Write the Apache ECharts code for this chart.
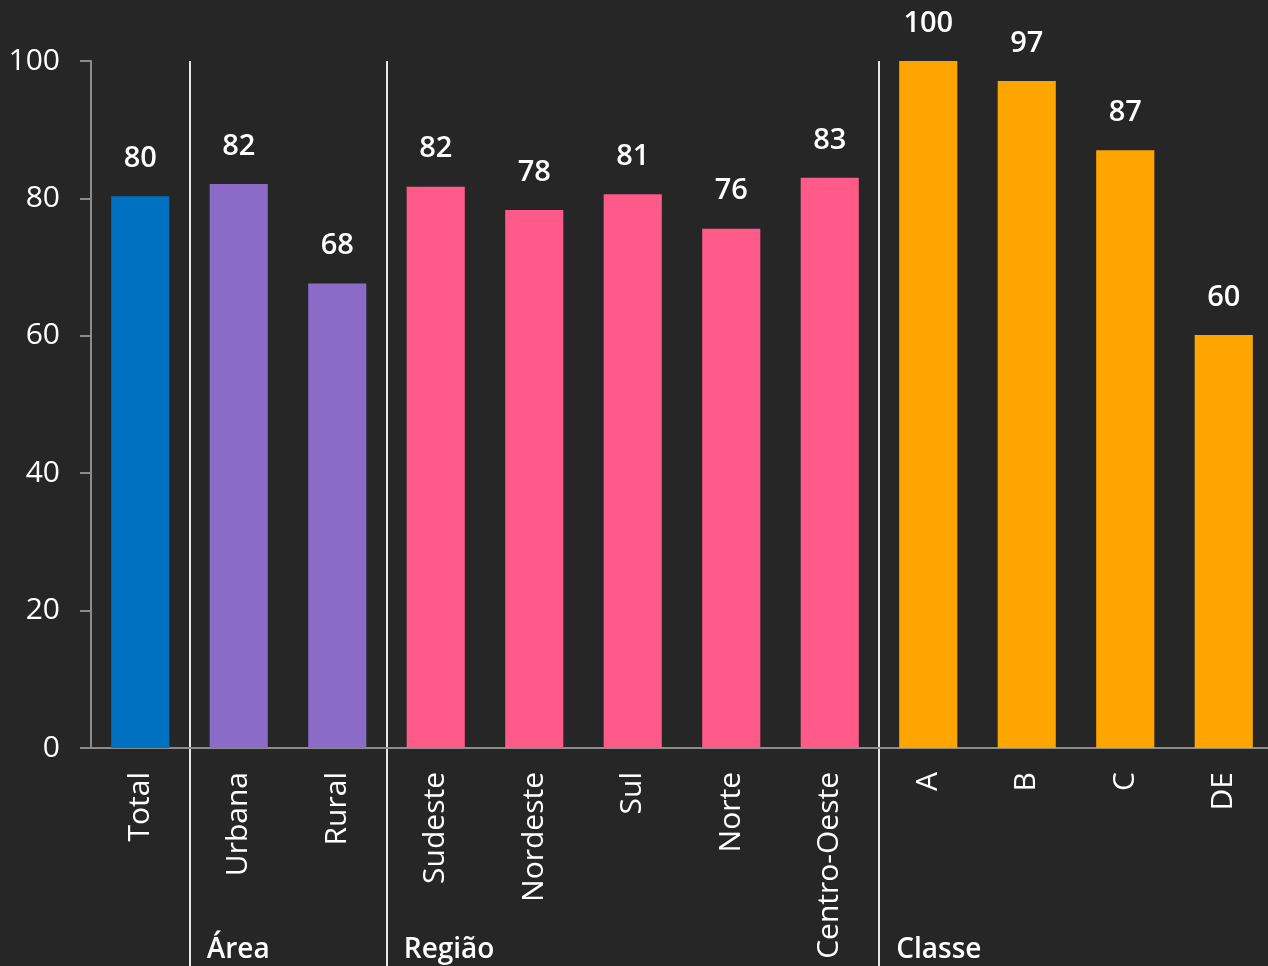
<!DOCTYPE html>
<html>
<head>
<meta charset="utf-8">
<script src="https://cdn.jsdelivr.net/npm/echarts@6/dist/echarts.min.js"></script>
<style>
  html, body { margin: 0; padding: 0; background: #262626; overflow: hidden; }
  /* chart is a bit wider than the window: the last band runs past the right edge */
  #chart { width: 1273px; height: 966px; }
</style>
</head>
<body>
<div id="chart"></div>
<script>
const categories = ['Total', 'Urbana', 'Rural', 'Sudeste', 'Nordeste', 'Sul', 'Norte', 'Centro-Oeste', 'A', 'B', 'C', 'DE']
const values = [80.3, 82.1, 67.6, 81.7, 78.3, 80.6, 75.6, 83.0, 100, 97.1, 87.0, 60.1]
// group of each category, group label shown at first category of group
const groups = ['', 'Área', 'Área', 'Região', 'Região', 'Região', 'Região', 'Região', 'Classe', 'Classe', 'Classe', 'Classe']
const groupColors = { '': '#0070C0', 'Área': '#8B6BC8', 'Região': '#FF5A8A', 'Classe': '#FFA500' }
const yTicks = { min: 0, max: 100, interval: 20 }

const fontFamily = '"Open Sans", "Noto Sans", sans-serif'

// separators sit before the first category of every group
function isGroupStart(i) {
  return i > 0 && groups[i] !== groups[i - 1]
}

const chart = echarts.init(document.getElementById('chart'))

chart.setOption({
  backgroundColor: '#262626',
  animation: false,
  grid: [
    { left: 91, right: 0, top: 61, bottom: 218 },
    { left: 91, right: 0, top: 748, bottom: 0 }
  ],
  xAxis: [{
    type: 'category',
    gridIndex: 0,
    data: categories,
    axisLine: { lineStyle: { color: '#8c8c8c', width: 2 } },
    axisTick: { show: false },
    axisLabel: {
      interval: 0,
      rotate: 90,
      margin: 24,
      color: '#ffffff',
      fontSize: 30,
      fontFamily: fontFamily
    },
    splitLine: {
      show: true,
      interval: (i) => isGroupStart(i),
      lineStyle: { color: '#e6e6e6', width: 2, type: 'solid' }
    }
  }, {
    type: 'category',
    gridIndex: 1,
    data: categories,
    position: 'bottom',
    axisLine: { show: false },
    axisTick: { show: false },
    axisLabel: {
      interval: 0,
      inside: true,
      margin: 2,
      align: 'left',
      padding: [0, 0, 0, -32],
      color: '#ffffff',
      fontSize: 28,
      fontWeight: 600,
      fontFamily: fontFamily,
      formatter: (v, i) => isGroupStart(i) ? groups[i] : ''
    },
    splitLine: {
      show: true,
      interval: (i) => isGroupStart(i),
      lineStyle: { color: '#e6e6e6', width: 2, type: 'solid' }
    }
  }],
  yAxis: [{
    type: 'value',
    gridIndex: 0,
    min: yTicks.min,
    max: yTicks.max,
    interval: yTicks.interval,
    axisLine: { show: true, lineStyle: { color: '#8c8c8c', width: 2 } },
    axisTick: { show: true, length: 11, lineStyle: { color: '#8c8c8c', width: 2 } },
    splitLine: { show: false },
    axisLabel: {
      margin: 31,
      color: '#ffffff',
      fontSize: 30,
      fontFamily: fontFamily
    }
  }, {
    type: 'value',
    gridIndex: 1,
    show: false
  }],
  series: [{
    type: 'bar',
    xAxisIndex: 0,
    yAxisIndex: 0,
    barWidth: '59%',
    data: values.map((v, i) => ({ value: v, itemStyle: { color: groupColors[groups[i]] } })),
    label: {
      show: true,
      position: 'top',
      distance: 23,
      color: '#ffffff',
      fontSize: 29,
      fontWeight: 600,
      fontFamily: fontFamily,
      formatter: (p) => Math.round(p.value)
    }
  }]
})
</script>
</body>
</html>
